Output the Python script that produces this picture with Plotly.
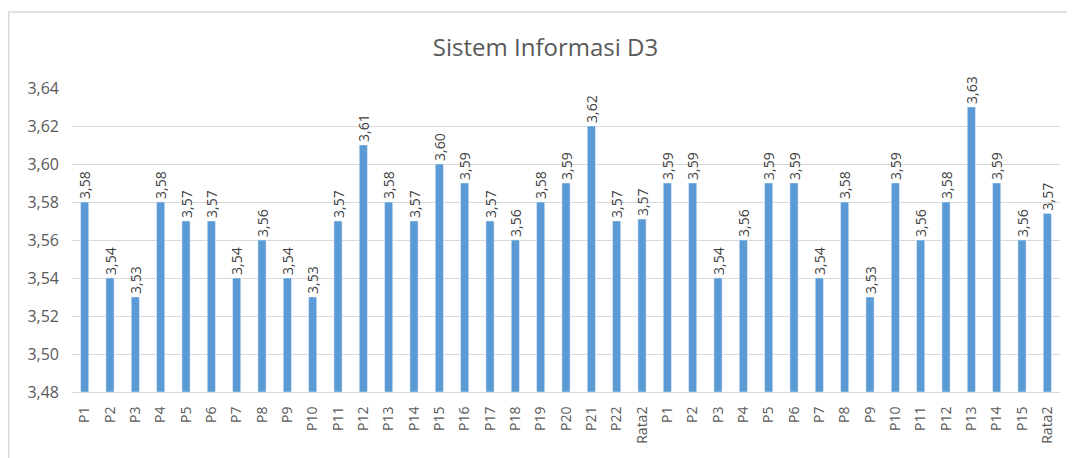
import plotly.graph_objects as go

# Sistem Informasi D3 - nilai per pertanyaan, dua kelompok
labels_a = ["P1", "P2", "P3", "P4", "P5", "P6", "P7", "P8", "P9", "P10", "P11",
            "P12", "P13", "P14", "P15", "P16", "P17", "P18", "P19", "P20", "P21",
            "P22", "Rata2"]
values_a = [3.58, 3.54, 3.53, 3.58, 3.57, 3.57, 3.54, 3.56, 3.54, 3.53, 3.57,
            3.61, 3.58, 3.57, 3.60, 3.59, 3.57, 3.56, 3.58, 3.59, 3.62,
            3.57, 3.571]

labels_b = ["P1", "P2", "P3", "P4", "P5", "P6", "P7", "P8", "P9", "P10", "P11",
            "P12", "P13", "P14", "P15", "Rata2"]
values_b = [3.59, 3.59, 3.54, 3.56, 3.59, 3.59, 3.54, 3.58, 3.53, 3.59, 3.56,
            3.58, 3.63, 3.59, 3.56, 3.574]

y_ticks = [3.48, 3.50, 3.52, 3.54, 3.56, 3.58, 3.60, 3.62, 3.64]
y_min = 3.48

labels = labels_a + labels_b
values = values_a + values_b
x_pos = list(range(len(labels)))

fig = go.Figure()
# bars start at the axis minimum, like the Excel original
fig.add_trace(go.Bar(
    x=x_pos,
    y=[v - y_min for v in values],
    base=y_min,
    marker_color="#5B9BD5",
    text=[f"{v:.2f}".replace(".", ",") for v in values],
    textposition="outside",
    textangle=-90,
    constraintext="none",
    textfont=dict(family="Open Sans", size=14, color="#404040"),
    cliponaxis=False,
))

fig.update_layout(
    width=1075,
    height=458,
    margin=dict(l=64, r=23, t=80, b=74, autoexpand=False),
    paper_bgcolor="white",
    plot_bgcolor="white",
    bargap=0.68,
    showlegend=False,
    title=dict(text="Sistem Informasi D3", x=0.5, xanchor="center",
               y=0.913, yanchor="middle",
               font=dict(family="Open Sans", size=24, color="#595959")),
    font=dict(family="Open Sans", color="#595959"),
)
fig.update_xaxes(
    tickmode="array",
    tickvals=x_pos,
    ticktext=labels,
    tickangle=-90,
    range=[-0.5, len(labels) - 0.5],
    showgrid=False,
    showline=True,
    linecolor="#D9D9D9",
    linewidth=1,
    ticks="",
    ticklabelstandoff=8,
    tickfont=dict(family="Open Sans", size=14, color="#595959"),
)
fig.update_yaxes(
    range=[y_ticks[0], y_ticks[-1]],
    tickmode="array",
    tickvals=y_ticks,
    ticktext=[f"{t:.2f}".replace(".", ",") for t in y_ticks],
    showgrid=True,
    gridcolor="#D9D9D9",
    gridwidth=1,
    zeroline=False,
    ticks="",
    ticklabelstandoff=12,
    tickfont=dict(family="Open Sans", size=16, color="#595959"),
)
# chart area border
fig.add_shape(type="rect", xref="paper", yref="paper",
              x0=-0.064, x1=1.03, y0=-0.33, y1=1.25,
              line=dict(color="#D9D9D9", width=1.5))

fig.write_html("out.html")
